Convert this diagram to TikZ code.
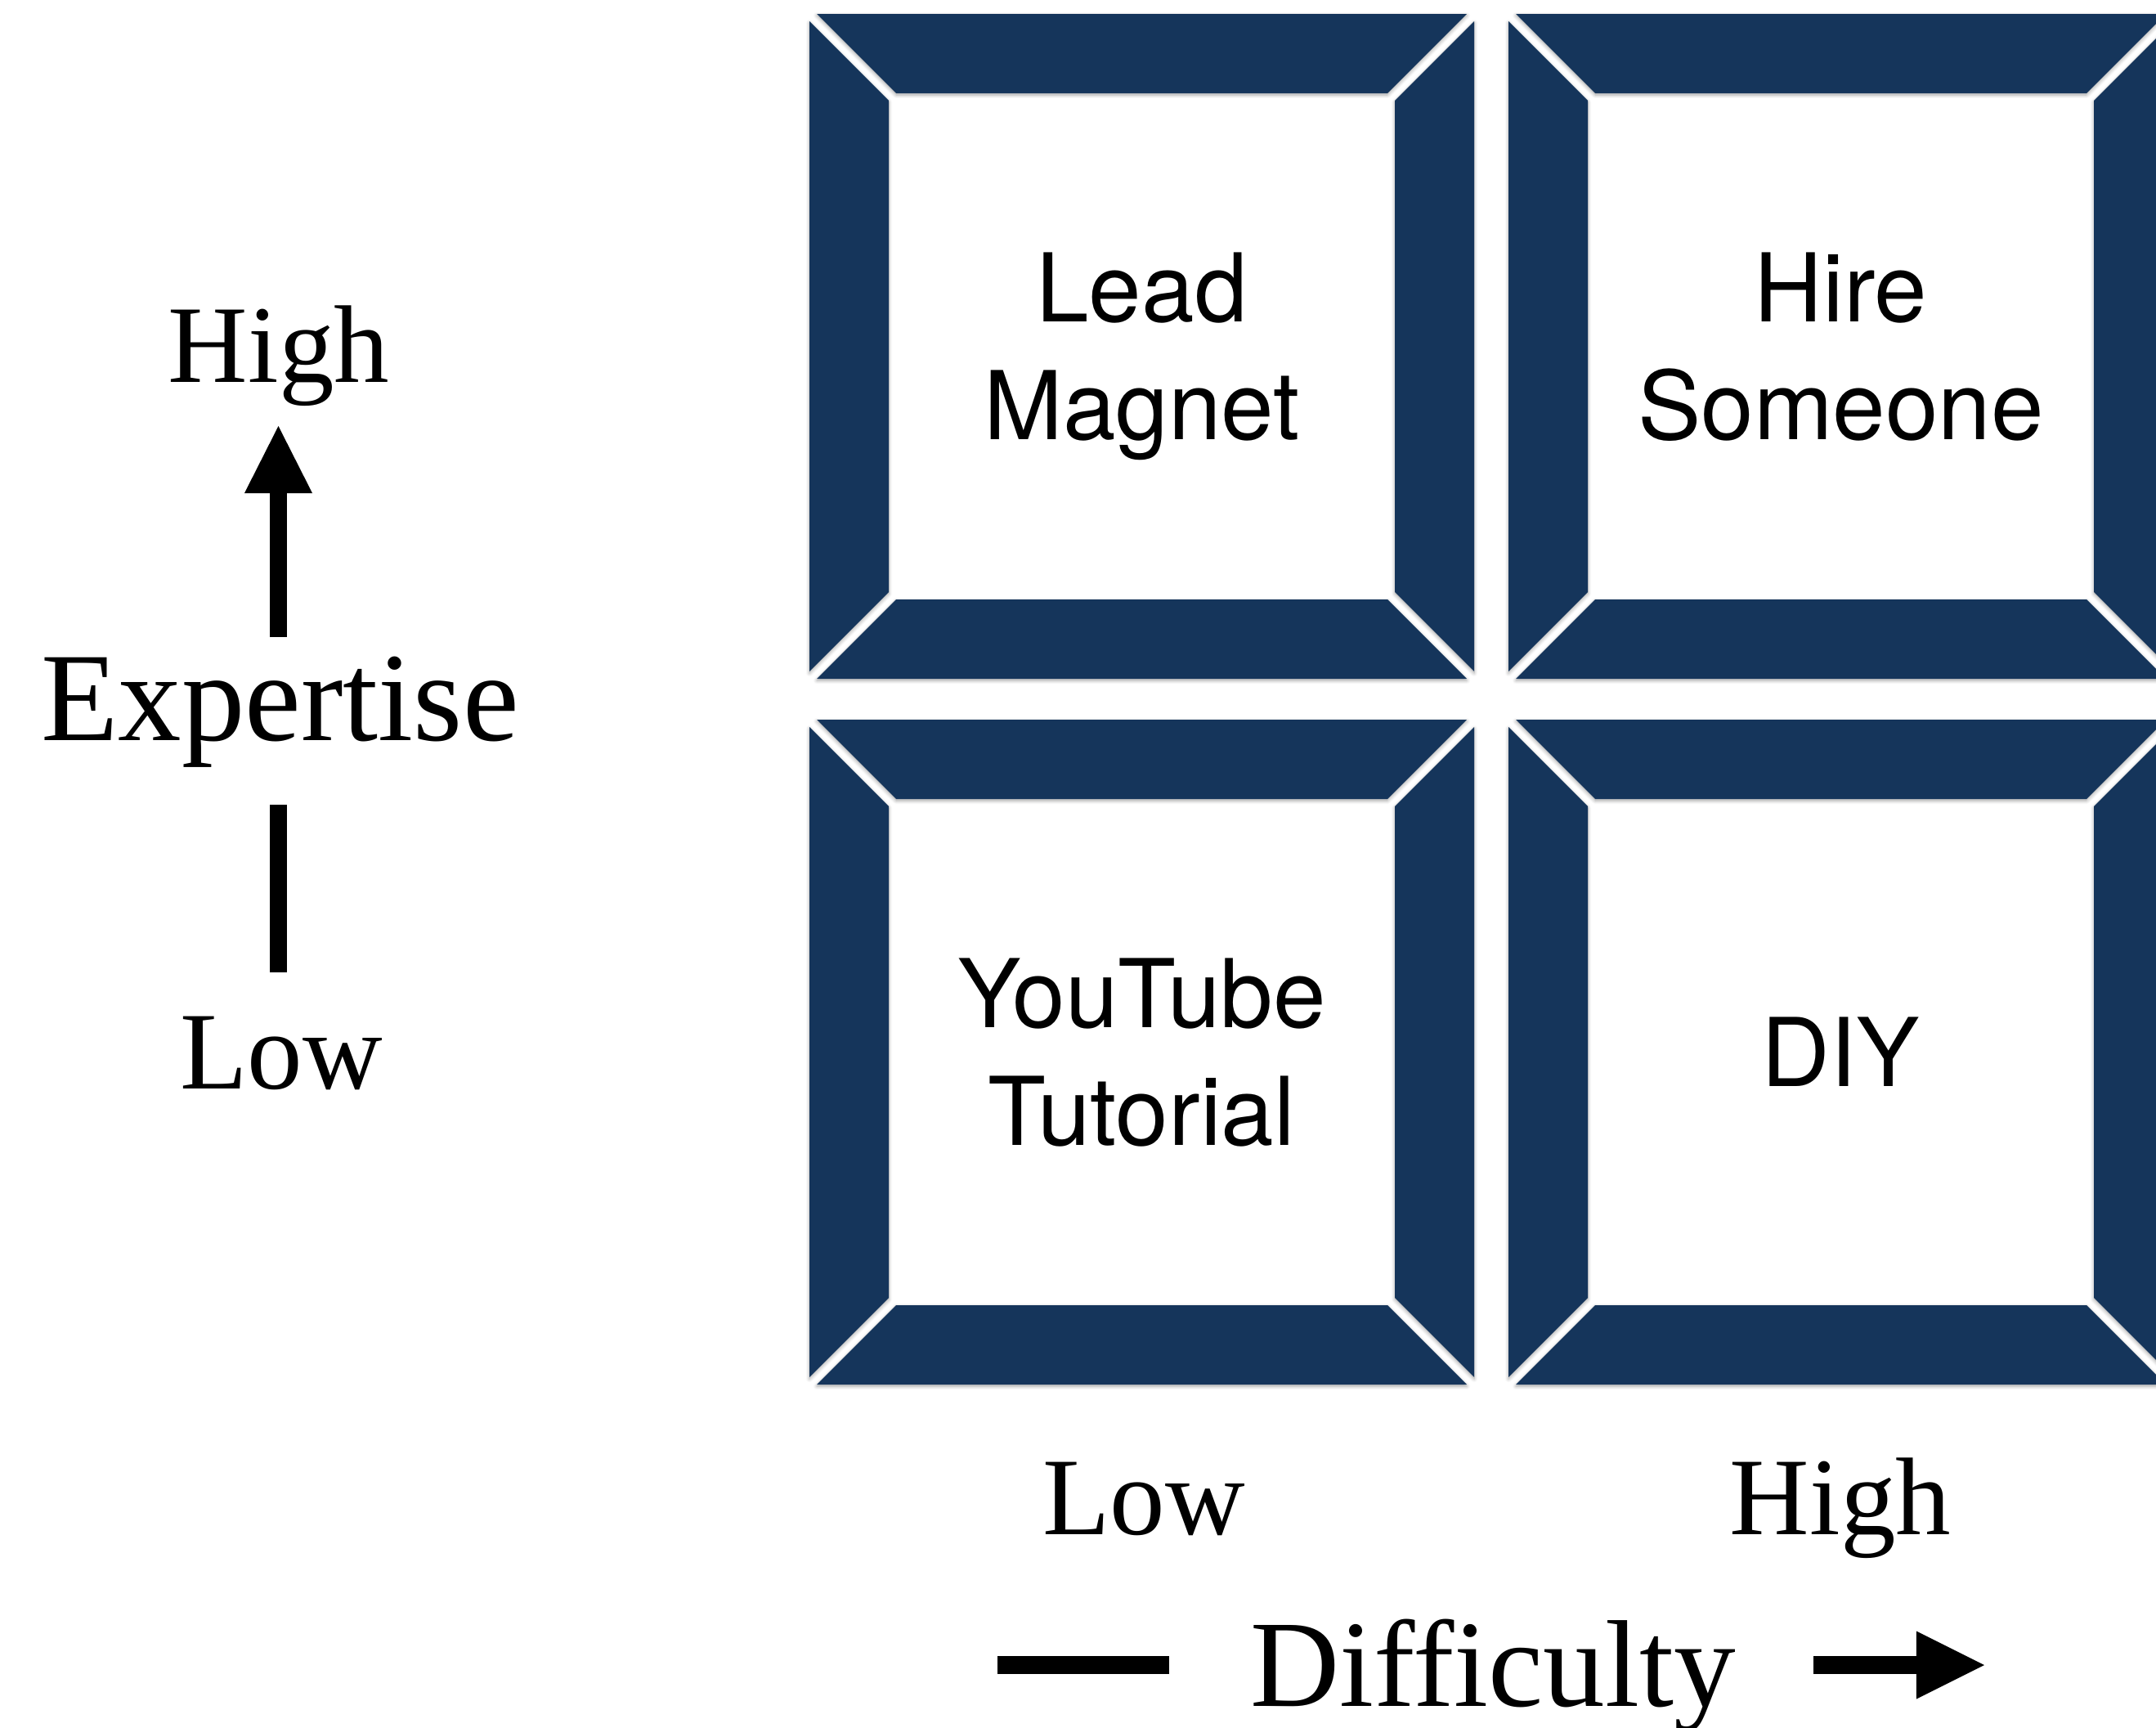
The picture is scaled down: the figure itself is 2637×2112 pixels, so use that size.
\documentclass[tikz,border=0pt]{standalone}
\usepackage{fontspec}
\setmainfont{Liberation Serif}
\newfontfamily\cellfont{TeX Gyre Heros}
\usepackage{tikz}
\usetikzlibrary{arrows.meta,shadows.blur}
\definecolor{framenavy}{HTML}{15355B}
\tikzstyle{piece} = [fill=framenavy, blur shadow={shadow xshift=0pt, shadow yshift=-0.6pt, shadow blur radius=1.2pt, shadow blur steps=6, shadow opacity=35}]
\tikzstyle{cell} = [font=\cellfont\fontsize{33}{41}\selectfont, align=center, text depth=0pt, inner sep=0pt]
\tikzstyle{axistext} = [font=\fontsize{38.4}{46}\selectfont, anchor=base, inner sep=0pt]
\tikzstyle{bigtext} = [font=\fontsize{44}{52}\selectfont, anchor=base, inner sep=0pt]
\tikzstyle{bar} = [line width=0.21cm, draw=black, fill opacity=1, draw opacity=1]

\begin{document}
\begin{tikzpicture}[x=0.01cm, y=-0.01cm]
\useasboundingbox (0,0) rectangle (2637,2112);

% expertise axis
\node[axistext] (ehigh) at (341,467) {High};
\node[bigtext] (expert) at (342.5,905) {Expertise};
\node[axistext] (elow) at (344,1331) {Low};
\coordinate (upfoot) at (340.5,779);
\coordinate (uptip) at (340.5,521);
\coordinate (lowtop) at (340.5,984);
\coordinate (lowfoot) at (340.5,1189);
\draw[bar, -{Triangle[length=0.82cm, width=0.83cm, line width=0pt, fill=black]}] (upfoot) -- (uptip);
\draw[bar] (lowtop) -- (lowfoot);

% difficulty axis
\node[axistext] (dlow) at (1399,1876) {Low};
\node[axistext] (dhigh) at (2251,1876) {High};
\node[bigtext, font=\fontsize{43}{50}\selectfont] (diffic) at (1826,2086) {Difficulty};
\coordinate (barleft) at (1220,2036);
\coordinate (barright) at (1430,2036);
\coordinate (arrfoot) at (2218,2036);
\coordinate (arrtip) at (2427,2036);
\draw[bar, line width=0.22cm] (barleft) -- (barright);
\draw[bar, line width=0.22cm, -{Triangle[length=0.83cm, width=0.83cm, line width=0pt, fill=black]}] (arrfoot) -- (arrtip);

% the four framed cells
\foreach \fx/\fy/\fname/\ftext in {990/17/lead/{Lead\\Magnet}, 1845/17/hire/{Hire\\Someone},
    990/880/tube/{YouTube\\Tutorial}, 1845/880/diy/{DIY}} {
    \fill[piece] ({\fx+9},\fy) -- ({\fx+804},\fy) -- ({\fx+707},{\fy+97}) -- ({\fx+106},{\fy+97}) -- cycle;
    \fill[piece] ({\fx+106},{\fy+716}) -- ({\fx+707},{\fy+716}) -- ({\fx+804},{\fy+813}) -- ({\fx+9},{\fy+813}) -- cycle;
    \fill[piece] (\fx,{\fy+9}) -- ({\fx+97},{\fy+106}) -- ({\fx+97},{\fy+707}) -- (\fx,{\fy+804}) -- cycle;
    \fill[piece] ({\fx+813},{\fy+9}) -- ({\fx+813},{\fy+804}) -- ({\fx+716},{\fy+707}) -- ({\fx+716},{\fy+106}) -- cycle;
    \node[cell] (\fname) at ({\fx+406.5},{\fy+406.5}) {\ftext};
}
\end{tikzpicture}
\end{document}
